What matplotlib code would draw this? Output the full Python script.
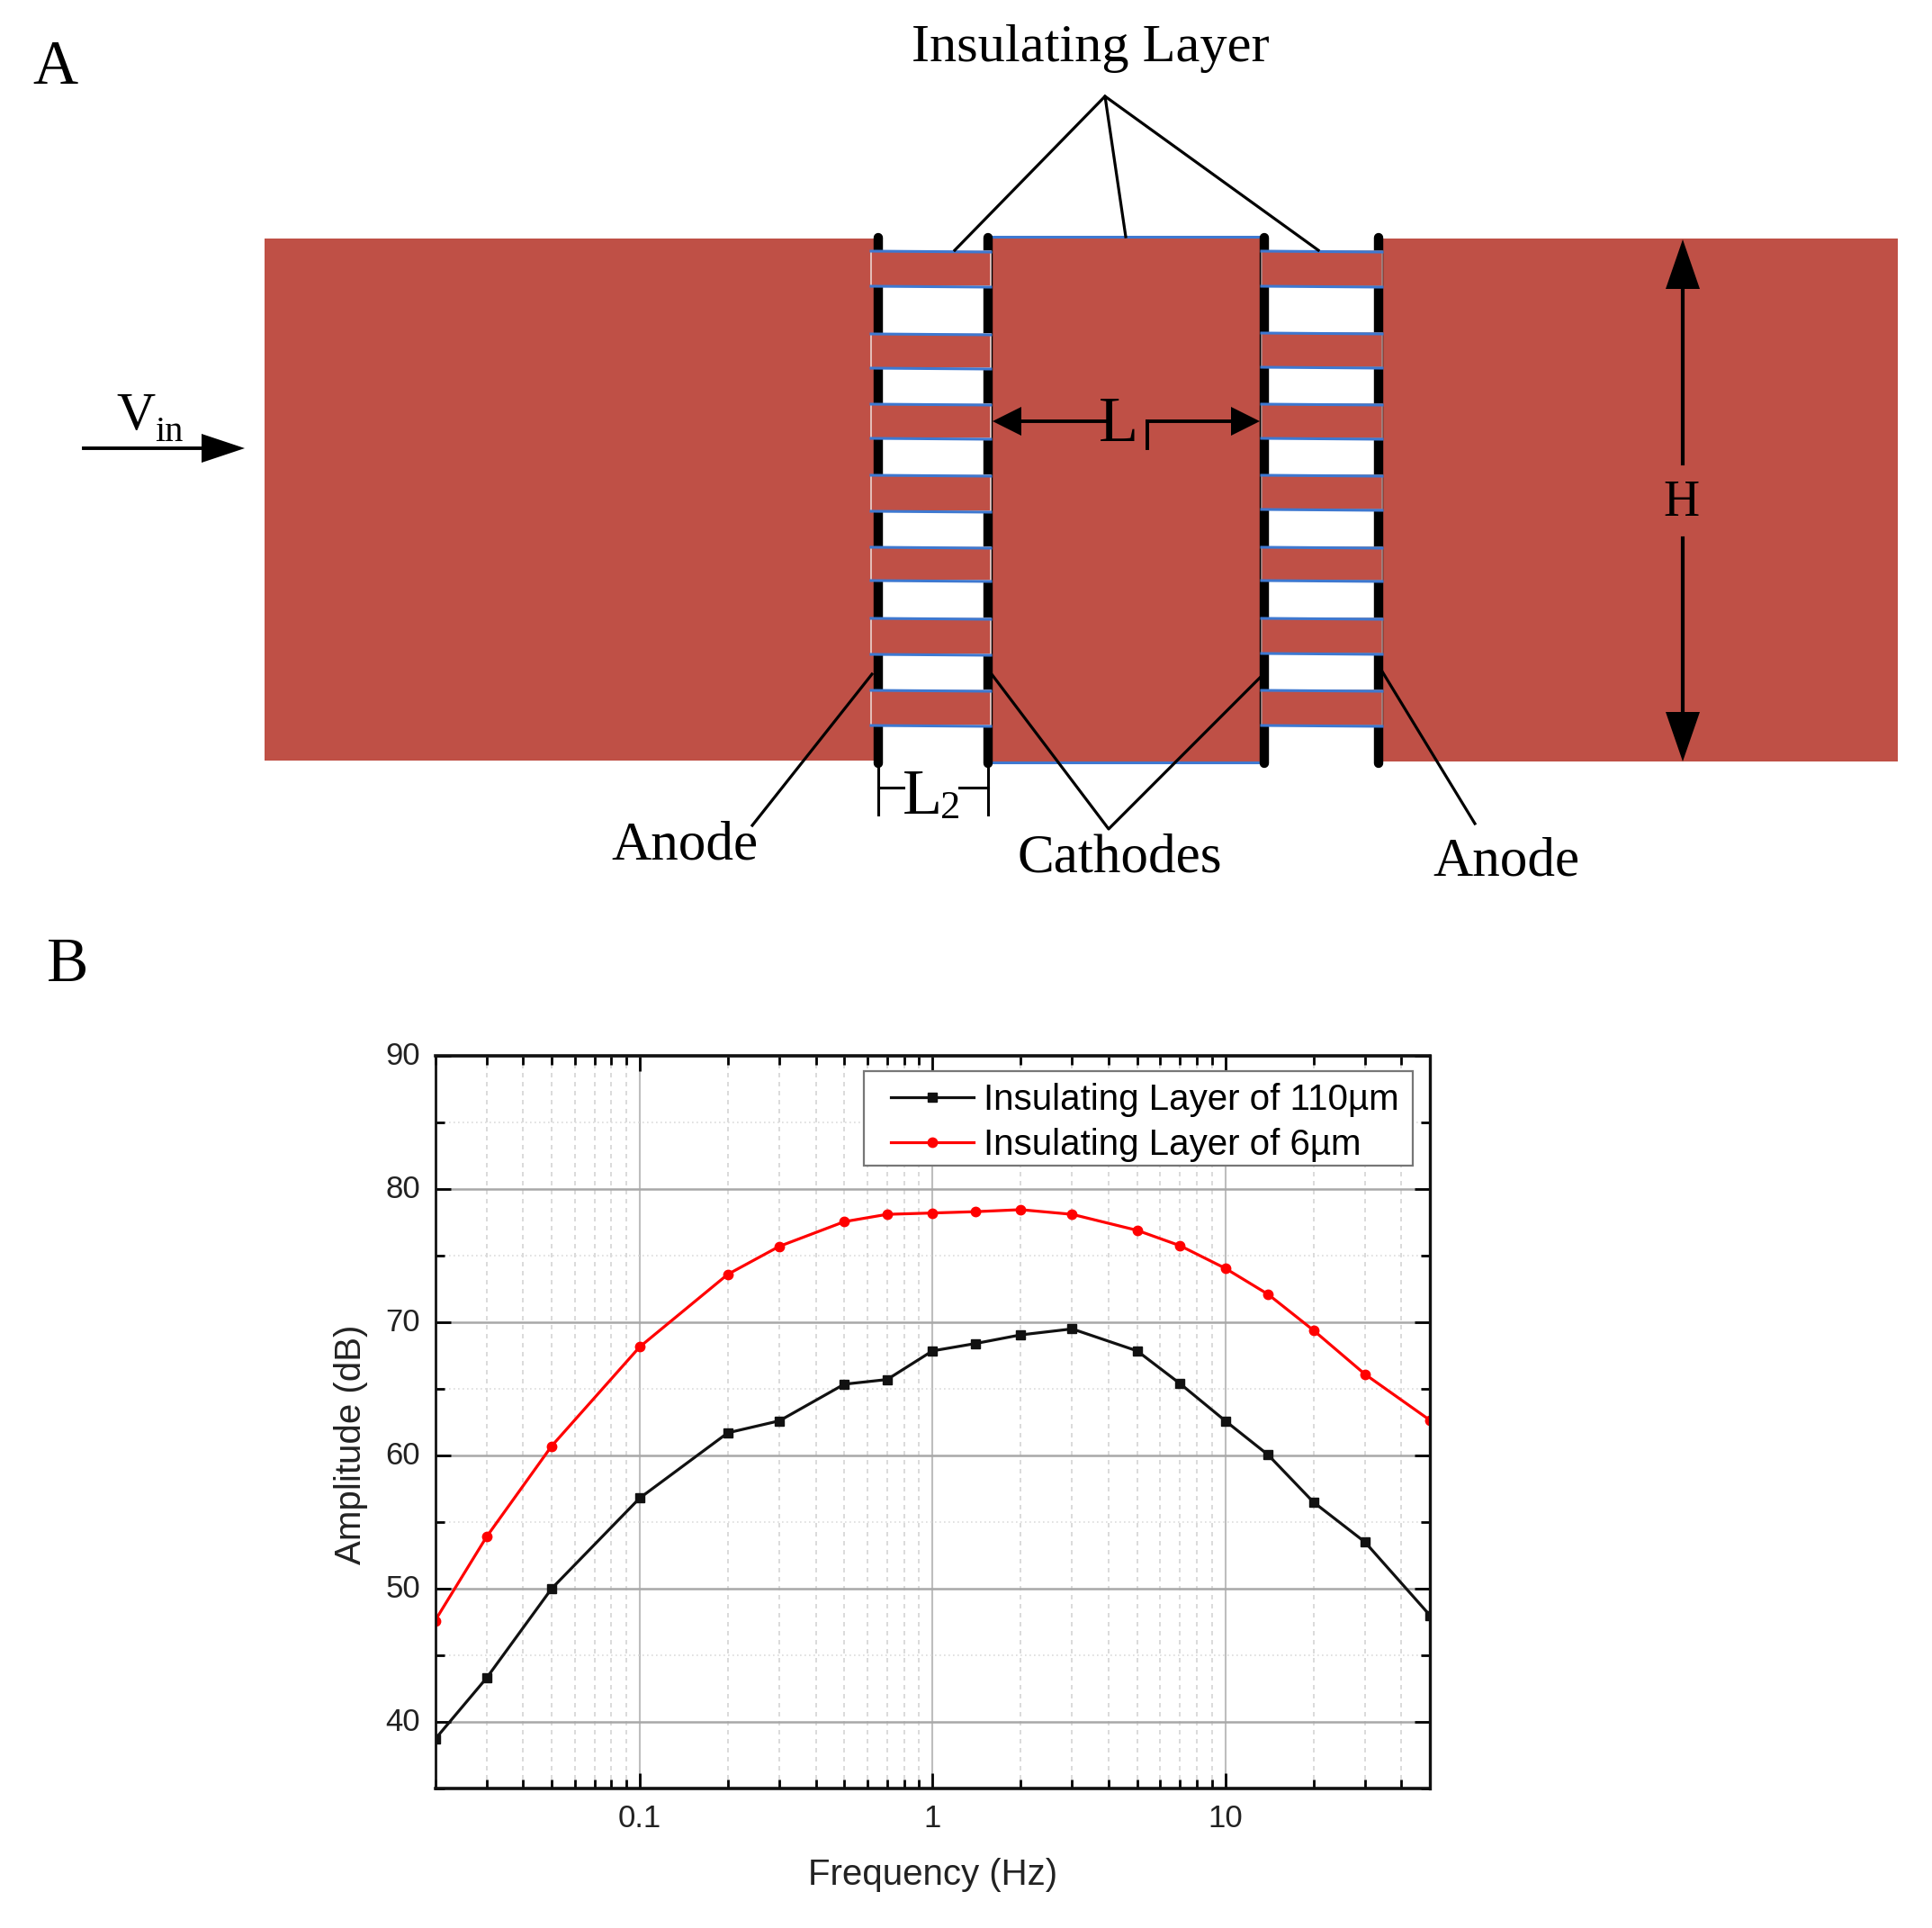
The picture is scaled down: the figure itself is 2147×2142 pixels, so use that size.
import matplotlib
matplotlib.use("Agg")
import matplotlib.pyplot as plt
from matplotlib.patches import Rectangle, Polygon
from matplotlib.ticker import LogLocator, FixedLocator, NullFormatter, FixedFormatter
from matplotlib.transforms import ScaledTranslation

W, H = 2147, 2142
frequency = [0.02, 0.03, 0.05, 0.1, 0.2, 0.3, 0.5, 0.7, 1, 1.4, 2, 3, 5, 7, 10, 14, 20, 30, 50]
amp_110 = [38.7, 43.3, 50.0, 56.8, 61.7, 62.6, 65.35, 65.7, 67.85, 68.4, 69.05, 69.5, 67.85, 65.4, 62.6, 60.05, 56.5, 53.5, 48.0]
amp_6 = [47.6, 53.9, 60.7, 68.15, 73.6, 75.7, 77.55, 78.1, 78.2, 78.3, 78.45, 78.1, 76.9, 75.75, 74.05, 72.1, 69.4, 66.1, 62.65]
x_tick_vals = [0.1, 1, 10]
x_tick_labels = ["0.1", "1", "10"]
y_tick_vals = [40, 50, 60, 70, 80, 90]
y_minor_vals = [35, 45, 55, 65, 75, 85]
label_110 = "Insulating Layer of 110µm"
label_6 = "Insulating Layer of 6µm"

left_bars = [(279, 318), (371, 409), (449, 487), (528, 568), (608, 645), (687, 727), (767, 806)]
right_bars = [(279, 318), (370, 408), (449, 487), (528, 566), (608, 645), (687, 726), (767, 806)]
rod_x = [976, 1098, 1405, 1532]
callouts = [
    [(1061, 278), (1228, 107), (1251, 263)], [(1228, 107), (1465, 278)],
    [(836, 917), (969, 749)], [(1102, 749), (1232, 921), (1403, 750)], [(1639, 915), (1536, 746)],
]

RED, BLUE = "#BF5046", "#3E78D0"
SERIF, SANS = "Liberation Serif", "Liberation Sans"

fig = plt.figure(figsize=(W / 100, H / 100), dpi=100, facecolor="white")
d = fig.add_axes([0, 0, 1, 1], zorder=0)
d.set_xlim(0, W); d.set_ylim(H, 0); d.axis("off")

for x0, x1, y0, y1 in [(294, 972, 265, 845), (1537, 2109, 265, 846), (1100, 1404, 263, 847)]:
    d.add_patch(Rectangle((x0, y0), x1 - x0, y1 - y0, fc=RED, ec="none", zorder=1))
for y in (263, 847):
    d.plot([1102, 1404], [y, y], color=BLUE, lw=2.2, zorder=2)
for x in rod_x:
    d.plot([x, x], [264, 848], color="black", lw=7.5, solid_capstyle="round", zorder=2)
for bars, x0, x1, side in [(left_bars, 968, 1101, "#EBD2D0"), (right_bars, 1402, 1536, "#A88A88")]:
    for y0, y1 in bars:
        d.add_patch(Rectangle((x0, y0), x1 - x0, y1 - y0, fc=RED, ec=side, lw=1.2, zorder=3))
        d.plot([x0, x1], [y0, y0 + 1], color=BLUE, lw=2.2, zorder=4)
        d.plot([x0, x1], [y1, y1 + 1], color=BLUE, lw=2.2, zorder=4)

for pts in callouts:
    d.plot([p[0] for p in pts], [p[1] for p in pts], color="black", lw=2.3, zorder=5)

def arrow(p0, p1, head=46, half=15, lw=2.8):
    dx, dy = p1[0] - p0[0], p1[1] - p0[1]
    n = (dx ** 2 + dy ** 2) ** 0.5
    ux, uy = dx / n, dy / n
    bx, by = p1[0] - ux * head, p1[1] - uy * head
    d.plot([p0[0], bx], [p0[1], by], color="black", lw=lw, zorder=6)
    d.add_patch(Polygon([p1, (bx - uy * half, by + ux * half), (bx + uy * half, by - ux * half)], fc="black", ec="none", zorder=6))

arrow((93, 498), (272, 498), head=48, half=16)
arrow((1230, 468), (1103, 468), head=32, half=16)
arrow((1275, 468), (1400, 468), head=32, half=16)
arrow((1870, 515), (1870, 266), head=55, half=19, lw=3)
arrow((1870, 598), (1870, 846), head=55, half=19, lw=3)
d.plot([1275, 1275], [468, 498], color="black", lw=2.8, zorder=6)
for x in (976, 1098):
    d.plot([x, x], [852, 905], color="black", lw=2.2, zorder=5)
d.plot([976, 1004], [875, 875], color="black", lw=2.2, zorder=5)
d.plot([1066, 1098], [875, 875], color="black", lw=2.2, zorder=5)

def t(x, y, s, size=42, **kw):
    d.text(x, y, s, family=SERIF, fontsize=size, ha="center", va="center", color="black", zorder=7, **kw)

t(61, 76, "A", 50)
t(75, 1073, "B", 50)
t(1212, 54, "Insulating Layer", 43.5)
t(151, 463, "V", 43)
t(188, 480, "in", 29)
t(1243, 472, "L", 52)
t(1868, 559, "H", 40)
t(1025, 886, "L", 52)
t(1056, 898, "2", 32)
t(761, 940, "Anode", 44)
t(1244, 954, "Cathodes", 44)
t(1674, 958, "Anode", 44)

ax = fig.add_axes([483.5 / W, 1 - 1987 / H, (1589 - 483.5) / W, (1987 - 1173) / H], zorder=2)
ax.patch.set_alpha(0)
ax.set_xscale("log")
ax.set_xlim(0.02, 50)
ax.set_ylim(35, 90)
ax.xaxis.set_major_locator(FixedLocator(x_tick_vals))
ax.xaxis.set_major_formatter(FixedFormatter(x_tick_labels))
ax.xaxis.set_minor_locator(LogLocator(base=10, subs=range(2, 10), numticks=12))
ax.xaxis.set_minor_formatter(NullFormatter())
ax.yaxis.set_major_locator(FixedLocator(y_tick_vals))
ax.yaxis.set_minor_locator(FixedLocator(y_minor_vals))
ax.tick_params(which="major", direction="in", length=12.5, width=2, top=True, right=True, labelsize=25, pad=12)
ax.tick_params(which="minor", direction="in", length=7, width=2, top=True, right=True)
for lab in ax.get_xticklabels() + ax.get_yticklabels():
    lab.set_family(SANS); lab.set_color("#222222")
up = ScaledTranslation(0, 3 / 100, fig.dpi_scale_trans)
for lab in ax.get_yticklabels():
    lab.set_transform(lab.get_transform() + up)
ax.grid(True, which="major", axis="y", color="#A8A8A8", lw=1.8)
ax.grid(True, which="major", axis="x", color="#BEBEBE", lw=1.5)
ax.grid(True, which="minor", axis="x", color="#D4D4D4", lw=1.2, ls=(0, (3, 3)))
ax.grid(True, which="minor", axis="y", color="#DDDDDD", lw=1.2, ls=(0, (1, 2)))
ax.set_axisbelow(True)
for s, w in [("top", 2.6), ("bottom", 2.6), ("left", 2), ("right", 2.4)]:
    ax.spines[s].set_linewidth(w); ax.spines[s].set_color("#111111")
ax.plot(frequency, amp_110, "-s", color="#111111", lw=2.3, ms=6.5, label=label_110)
ax.plot(frequency, amp_6, "-o", color="#FF0000", lw=2.3, ms=7.5, label=label_6)
ax.set_xlabel("Frequency (Hz)", family=SANS, fontsize=29, color="#222222", labelpad=20)
ax.set_ylabel("Amplitude (dB)", family=SANS, fontsize=29, color="#222222")
ax.yaxis.set_label_coords(-0.067, 0.47)

ax_w, ax_h = 1589 - 483.5, 1987 - 1173
ax.add_patch(Rectangle(((960 - 483.5) / ax_w, 1 - (1295 - 1173) / ax_h), (1570 - 960) / ax_w, (1295 - 1190) / ax_h,
                       transform=ax.transAxes, fc="white", ec="#777777", lw=1.6, zorder=4.5))
leg = ax.legend(loc="center left", bbox_to_anchor=((982 - 483.5) / ax_w, 1 - (1247 - 1173) / ax_h),
                bbox_transform=ax.transAxes, borderaxespad=0, frameon=False,
                prop={"family": SANS, "size": 29}, handlelength=2.28,
                handletextpad=0.27, labelspacing=0.3, borderpad=0.2)
fig.savefig("out.png", dpi=100)
